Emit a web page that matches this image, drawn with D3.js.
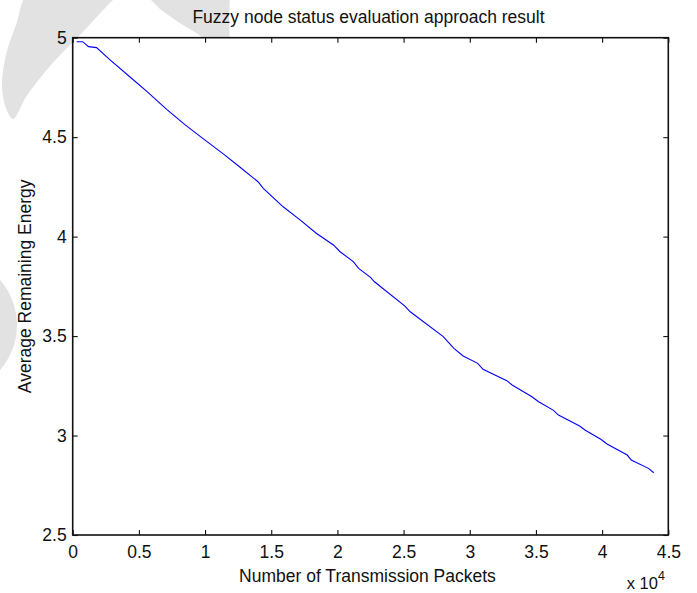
<!DOCTYPE html>
<html>
<head>
<meta charset="utf-8">
<script src="https://cdn.jsdelivr.net/npm/d3@7/dist/d3.min.js"></script>
<style>
  html, body { margin: 0; padding: 0; background: #fff; }
  svg { display: block; }
  text { font-family: "Liberation Sans", Arial, sans-serif; fill: #111; }
</style>
</head>
<body>
<script>
// Average remaining energy vs. number of transmitted packets
const packets = [300, 750, 1200, 1800, 2800, 4200, 5600, 7100, 8500, 9900, 11400,
  12600, 14000, 14400, 15900, 17200, 18400, 19700, 20200, 21200, 21600, 22500, 22800,
  25100, 25500, 28000, 28800, 29500, 30600, 31000, 32800, 33200, 34700, 35200, 36300,
  36700, 38300, 38700, 39900, 40400, 41900, 42200, 43500, 43900];
const energy = [4.98, 4.98, 4.955, 4.95, 4.89, 4.81, 4.73, 4.64, 4.562, 4.49, 4.415,
  4.351, 4.276, 4.243, 4.15, 4.083, 4.017, 3.958, 3.924, 3.874, 3.84, 3.795, 3.773,
  3.651, 3.622, 3.497, 3.438, 3.40, 3.363, 3.333, 3.276, 3.254, 3.195, 3.17, 3.128,
  3.103, 3.048, 3.028, 2.981, 2.956, 2.902, 2.877, 2.835, 2.813];

const xTickValues = [0, 5000, 10000, 15000, 20000, 25000, 30000, 35000, 40000, 45000];
const xTickLabels = ["0", "0.5", "1", "1.5", "2", "2.5", "3", "3.5", "4", "4.5"];
const yTickValues = [2.5, 3, 3.5, 4, 4.5, 5];
const yTickLabels = ["2.5", "3", "3.5", "4", "4.5", "5"];

const titleText = "Fuzzy node status evaluation approach result";
const xLabelText = "Number of Transmission Packets";
const yLabelText = "Average Remaining Energy";

const W = 697, H = 593;
const box = { left: 72.7, right: 668.3, top: 37.7, bottom: 535 };

const svg = d3.select("body").append("svg").attr("width", W).attr("height", H);

// faint background artwork behind the axes
const wm = svg.append("g").attr("fill", "#e2e2e2");
const blob = d3.line().curve(d3.curveCatmullRomClosed);
wm.append("path").attr("d", blob([
  [30, -8], [16, 25], [6, 55], [2, 85], [6, 108], [13, 119],
  [26, 97], [50, 66], [80, 35], [113, 0], [125, -10]
]));
wm.append("path").attr("d", d3.line()([
  [146, -5], [160, 9], [178, 22], [198, 34], [212, 45], [230, 45], [229, 20], [230, -5]
]));
wm.append("circle").attr("cx", -51).attr("cy", 325).attr("r", 68);

const x = d3.scaleLinear().domain([0, 45000]).range([box.left, box.right]);
const y = d3.scaleLinear().domain([2.5, 5]).range([box.bottom, box.top]);

// opaque plot background
svg.append("rect")
  .attr("x", box.left).attr("y", box.top)
  .attr("width", box.right - box.left).attr("height", box.bottom - box.top)
  .attr("fill", "#fff");

const fontSize = 17.5;
const tickLen = 5;

// data line
svg.append("path")
  .datum(packets.map((p, i) => [p, energy[i]]))
  .attr("fill", "none")
  .attr("stroke", "#0000ff")
  .attr("stroke-width", 1.1)
  .attr("d", d3.line().x(d => x(d[0])).y(d => y(d[1])));

// axes with inward ticks on all four sides
const xFmt = (d, i) => xTickLabels[i];
const yFmt = (d, i) => yTickLabels[i];

const axisStyle = g => {
  g.select(".domain").remove();
  g.selectAll(".tick line").attr("stroke", "#111").attr("stroke-width", 1.1);
  g.selectAll(".tick text").style("font-size", fontSize + "px")
    .style("font-family", "'Liberation Sans', Arial, sans-serif").attr("fill", "#111");
};

svg.append("g").attr("transform", `translate(0,${box.bottom})`)
  .call(d3.axisBottom(x).tickValues(xTickValues).tickFormat(xFmt).tickSizeInner(-tickLen).tickSizeOuter(0).tickPadding(11))
  .call(axisStyle);
svg.append("g").attr("transform", `translate(0,${box.top})`)
  .call(d3.axisTop(x).tickValues(xTickValues).tickFormat("").tickSizeInner(-tickLen).tickSizeOuter(0))
  .call(axisStyle);
svg.append("g").attr("transform", `translate(${box.left},0)`)
  .call(d3.axisLeft(y).tickValues(yTickValues).tickFormat(yFmt).tickSizeInner(-tickLen).tickSizeOuter(0).tickPadding(6))
  .call(axisStyle);
svg.append("g").attr("transform", `translate(${box.right},0)`)
  .call(d3.axisRight(y).tickValues(yTickValues).tickFormat("").tickSizeInner(-tickLen).tickSizeOuter(0))
  .call(axisStyle);

// frame
svg.append("rect")
  .attr("x", box.left).attr("y", box.top)
  .attr("width", box.right - box.left).attr("height", box.bottom - box.top)
  .attr("fill", "none").attr("stroke", "#111").attr("stroke-width", 1.6);

// title and labels
svg.append("text").attr("x", 368.5).attr("y", 22.7).attr("text-anchor", "middle")
  .style("font-size", fontSize + "px").text(titleText);
svg.append("text").attr("x", 367.5).attr("y", 582.3).attr("text-anchor", "middle")
  .style("font-size", fontSize + "px").text(xLabelText);
svg.append("text").attr("transform", `translate(31,${(box.top + box.bottom) / 2}) rotate(-90)`)
  .attr("text-anchor", "middle").style("font-size", fontSize + "px").text(yLabelText);

// exponent for the x axis
const expo = svg.append("text").attr("x", 626.7).attr("y", 588.5).style("font-size", "16.5px");
expo.append("tspan").text("x 10");
expo.append("tspan").attr("dy", -9).style("font-size", "12.5px").text("4");
</script>
</body>
</html>
